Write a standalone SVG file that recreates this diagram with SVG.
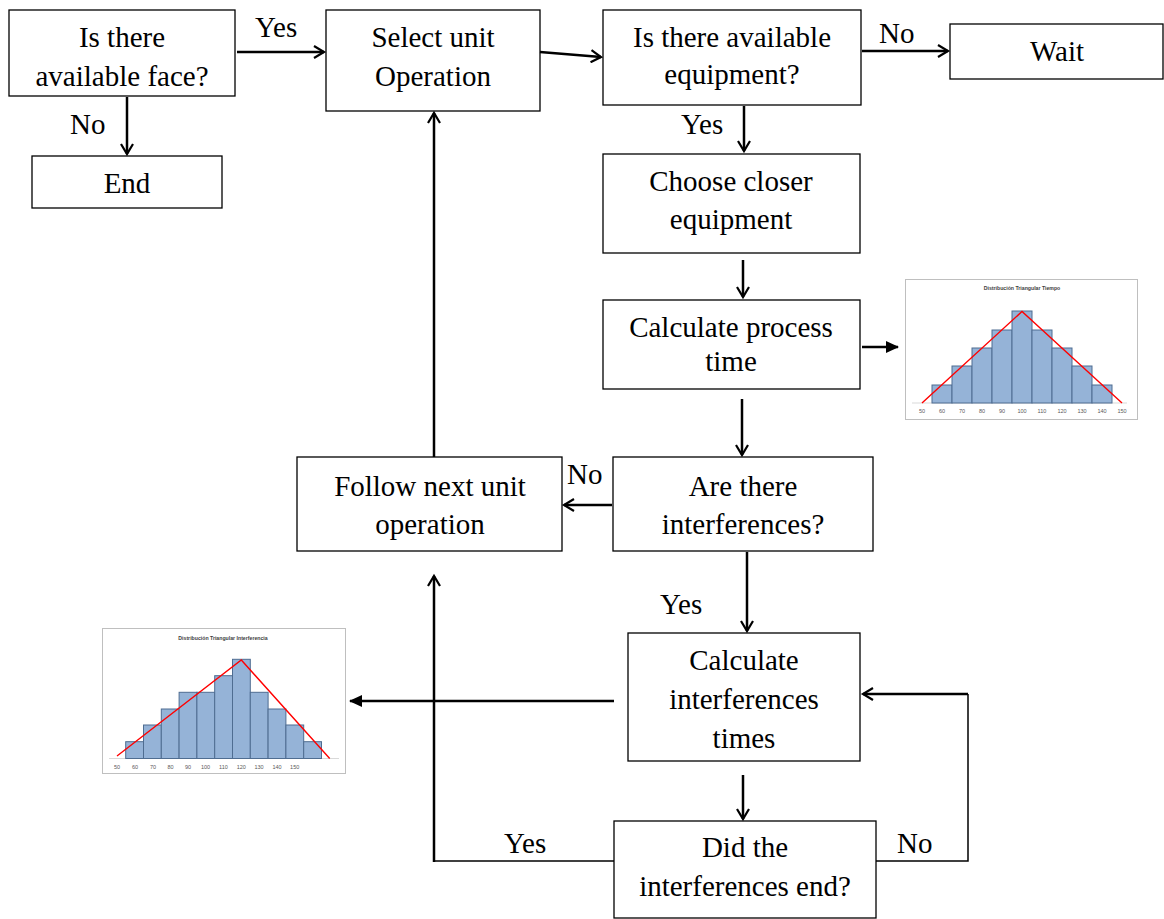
<svg xmlns="http://www.w3.org/2000/svg" width="1164" height="919" viewBox="0 0 1164 919">
<style>
.box{fill:#fff;stroke:#000;stroke-width:1.3}
.t{font-family:"Liberation Serif","Times New Roman",serif;font-size:29px;fill:#000;text-anchor:middle}
.lbl{font-family:"Liberation Serif","Times New Roman",serif;font-size:29px;fill:#000}
.c{fill:none;stroke:#000;stroke-width:2.5}
.thin{fill:none;stroke:#000;stroke-width:1.5}
.frame{fill:#fff;stroke:#bfbfbf;stroke-width:1}
.bar{fill:#95b3d7;stroke:#4f6d91;stroke-width:1}
.ax{stroke:#d9d9d9;stroke-width:1}
.red{fill:none;stroke:#ff0000;stroke-width:1.4}
.tick{font-family:"Liberation Sans",Arial,sans-serif;font-size:5.5px;fill:#595959;text-anchor:middle}
.ttl{font-family:"Liberation Sans",Arial,sans-serif;font-size:5.2px;font-weight:bold;fill:#404040;text-anchor:middle}
</style>
<defs>
<marker id="open" markerWidth="14" markerHeight="14" refX="11" refY="7" orient="auto" markerUnits="userSpaceOnUse">
<path d="M1,1 L11,7 L1,13" fill="none" stroke="#000" stroke-width="2.2"/>
</marker>
<marker id="fill" markerWidth="14" markerHeight="14" refX="12" refY="7" orient="auto" markerUnits="userSpaceOnUse">
<path d="M0,1 L13,7 L0,13 Z" fill="#000"/>
</marker>
</defs>

<g id="n-face"><rect class="box" x="9" y="10" width="226" height="86"/><text class="t" x="122" y="47">Is there</text><text class="t" x="122" y="86">available face?</text></g>
<g id="n-end"><rect class="box" x="32" y="156" width="190" height="52"/><text class="t" x="127" y="193">End</text></g>
<g id="n-select"><rect class="box" x="326" y="10" width="214" height="101"/><text class="t" x="433" y="47">Select unit</text><text class="t" x="433" y="86">Operation</text></g>
<g id="n-equip"><rect class="box" x="603" y="10" width="258" height="95"/><text class="t" x="732" y="47">Is there available</text><text class="t" x="732" y="84">equipment?</text></g>
<g id="n-wait"><rect class="box" x="950" y="24" width="213" height="55"/><text class="t" x="1057" y="61">Wait</text></g>
<g id="n-choose"><rect class="box" x="603" y="154" width="257" height="99"/><text class="t" x="731" y="191">Choose closer</text><text class="t" x="731" y="229">equipment</text></g>
<g id="n-proc"><rect class="box" x="603" y="300" width="257" height="89"/><text class="t" x="731" y="337">Calculate process</text><text class="t" x="731" y="371">time</text></g>
<g id="n-follow"><rect class="box" x="297" y="457" width="265" height="94"/><text class="t" x="430" y="496">Follow next unit</text><text class="t" x="430" y="534">operation</text></g>
<g id="n-interf"><rect class="box" x="613" y="457" width="260" height="94"/><text class="t" x="743" y="496">Are there</text><text class="t" x="743" y="534">interferences?</text></g>
<g id="n-calcint"><rect class="box" x="628" y="633" width="232" height="128"/><text class="t" x="744" y="670">Calculate</text><text class="t" x="744" y="709">interferences</text><text class="t" x="744" y="748">times</text></g>
<g id="n-did"><rect class="box" x="614" y="821" width="262" height="97"/><text class="t" x="745" y="857">Did the</text><text class="t" x="745" y="896">interferences end?</text></g>

<g id="chart-time">
<rect class="frame" x="905.5" y="279.5" width="232" height="140"/>
<text class="ttl" x="1022" y="290">Distribución Triangular Tiempo</text>
<line class="ax" x1="912" y1="403" x2="1127" y2="403"/>
<rect class="bar" x="932" y="385" width="20" height="18"/>
<rect class="bar" x="952" y="366" width="20" height="37"/>
<rect class="bar" x="972" y="348" width="20" height="55"/>
<rect class="bar" x="992" y="330" width="20" height="73"/>
<rect class="bar" x="1012" y="311" width="20" height="92"/>
<rect class="bar" x="1032" y="330" width="20" height="73"/>
<rect class="bar" x="1052" y="348" width="20" height="55"/>
<rect class="bar" x="1072" y="366" width="20" height="37"/>
<rect class="bar" x="1092" y="385" width="20" height="18"/>
<polyline class="red" points="922,403 1022,311.5 1122,403"/>
<text class="tick" x="922" y="413">50</text><text class="tick" x="942" y="413">60</text><text class="tick" x="962" y="413">70</text><text class="tick" x="982" y="413">80</text><text class="tick" x="1002" y="413">90</text><text class="tick" x="1022" y="413">100</text><text class="tick" x="1042" y="413">110</text><text class="tick" x="1062" y="413">120</text><text class="tick" x="1082" y="413">130</text><text class="tick" x="1102" y="413">140</text><text class="tick" x="1122" y="413">150</text>
</g>

<g id="chart-interf">
<rect class="frame" x="102.5" y="628.5" width="243" height="145"/>
<text class="ttl" x="223" y="640">Distribución Triangular Interferencia</text>
<line class="ax" x1="109" y1="758.5" x2="339" y2="758.5"/>
<rect class="bar" x="125.7" y="741.7" width="17.8" height="16.8"/>
<rect class="bar" x="143.5" y="725" width="17.8" height="33.5"/>
<rect class="bar" x="161.3" y="709" width="17.8" height="49.5"/>
<rect class="bar" x="179.1" y="692.3" width="17.8" height="66.2"/>
<rect class="bar" x="196.9" y="692.3" width="17.8" height="66.2"/>
<rect class="bar" x="214.7" y="675.7" width="17.8" height="82.8"/>
<rect class="bar" x="232.5" y="659.3" width="17.8" height="99.2"/>
<rect class="bar" x="250.3" y="692.3" width="17.8" height="66.2"/>
<rect class="bar" x="268.1" y="709" width="17.8" height="49.5"/>
<rect class="bar" x="285.9" y="725" width="17.8" height="33.5"/>
<rect class="bar" x="303.7" y="741.7" width="17.8" height="16.8"/>
<polyline class="red" points="117,756 241.3,660 329.7,758.5"/>
<text class="tick" x="117" y="769">50</text><text class="tick" x="135" y="769">60</text><text class="tick" x="153" y="769">70</text><text class="tick" x="170.5" y="769">80</text><text class="tick" x="188" y="769">90</text><text class="tick" x="205.5" y="769">100</text><text class="tick" x="223.5" y="769">110</text><text class="tick" x="241.3" y="769">120</text><text class="tick" x="259" y="769">130</text><text class="tick" x="277" y="769">140</text><text class="tick" x="294.7" y="769">150</text>
</g>

<g id="connectors">
<line class="c" x1="237" y1="52" x2="324" y2="52" marker-end="url(#open)"/>
<line class="c" x1="127" y1="97" x2="127" y2="154" marker-end="url(#open)"/>
<line class="c" x1="540" y1="52" x2="601" y2="57" marker-end="url(#open)"/>
<line class="c" x1="862" y1="51" x2="948" y2="51" marker-end="url(#open)"/>
<line class="c" x1="744" y1="106" x2="744" y2="151" marker-end="url(#open)"/>
<line class="c" x1="743" y1="260" x2="743" y2="297" marker-end="url(#open)"/>
<line class="c" x1="862" y1="347" x2="898" y2="347" marker-end="url(#fill)"/>
<line class="c" x1="742" y1="399" x2="742" y2="455" marker-end="url(#open)"/>
<line class="c" x1="612" y1="505" x2="564" y2="505" marker-end="url(#open)"/>
<line class="c" x1="434" y1="457" x2="434" y2="113" marker-end="url(#open)"/>
<line class="c" x1="747" y1="552" x2="747" y2="631" marker-end="url(#open)"/>
<line class="c" x1="614" y1="701" x2="350" y2="701" marker-end="url(#fill)"/>
<line class="c" x1="743" y1="775" x2="743" y2="819" marker-end="url(#open)"/>
<polyline class="thin" points="614,861 434,861"/>
<line class="c" x1="434" y1="862" x2="434" y2="576" marker-end="url(#open)"/>
<polyline class="thin" points="876,861 968,861 968,694"/>
<line class="c" x1="968" y1="694" x2="863" y2="694" marker-end="url(#open)"/>
</g>

<g id="labels">
<text class="lbl" x="255" y="37">Yes</text>
<text class="lbl" x="70" y="134">No</text>
<text class="lbl" x="879" y="43">No</text>
<text class="lbl" x="681" y="134">Yes</text>
<text class="lbl" x="567" y="484">No</text>
<text class="lbl" x="660" y="614">Yes</text>
<text class="lbl" x="504" y="853">Yes</text>
<text class="lbl" x="897" y="853">No</text>
</g>
</svg>
